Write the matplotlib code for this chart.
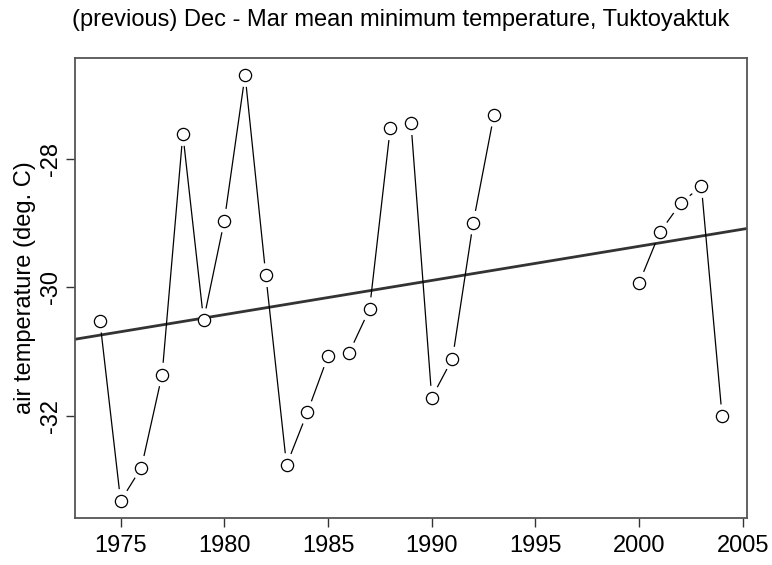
import matplotlib
matplotlib.use('Agg')
import matplotlib.pyplot as plt
import numpy as np

plt.rcParams['font.family'] = ['Liberation Sans', 'DejaVu Sans']

# Dec-Mar mean minimum temperature, Tuktoyaktuk (NaN = missing year)
years = np.arange(1974, 2005)
temps = np.array([
    -30.52, -33.33, -32.81, -31.36, -27.61, -30.51, -28.96, -26.69, -29.81, -32.77,
    -31.95, -31.07, -31.03, -30.34, -27.52, -27.44, -31.72, -31.11, -28.99, -27.31,
    np.nan, np.nan, np.nan, np.nan, np.nan, np.nan,
    -29.93, -29.14, -28.69, -28.42, -32.01,
])
xticks = [1975, 1980, 1985, 1990, 1995, 2000, 2005]
yticks = [-28, -30, -32]

fig = plt.figure(figsize=(7.72, 5.65), dpi=100)
ax = fig.add_axes([75/772, 47/565, 672/772, 460/565])

ok = ~np.isnan(temps)
xr = years.min(), years.max()
yr = np.nanmin(temps), np.nanmax(temps)
pad_x = 0.04 * (xr[1] - xr[0])
pad_y = 0.04 * (yr[1] - yr[0])
ax.set_xlim(xr[0] - pad_x, xr[1] + pad_x)
ax.set_ylim(yr[0] - pad_y, yr[1] + pad_y)

# linear trend
slope, icept = np.polyfit(years[ok], temps[ok], 1)
xl = np.array(ax.get_xlim())
ax.plot(xl, icept + slope * xl, color='#333333', lw=2.0, zorder=2)

# R type="b": segments with gaps around the points
fig.canvas.draw()
trans = ax.transData
inv = trans.inverted()
gap = 12.5
for i in range(len(years) - 1):
    if not (ok[i] and ok[i + 1]):
        continue
    p0 = trans.transform((years[i], temps[i]))
    p1 = trans.transform((years[i + 1], temps[i + 1]))
    d = p1 - p0
    L = np.hypot(*d)
    if L <= 2 * gap:
        continue
    u = d / L
    a = inv.transform(p0 + u * gap)
    b = inv.transform(p1 - u * gap)
    ax.plot([a[0], b[0]], [a[1], b[1]], color='black', lw=0.9, zorder=3)

ax.plot(years[ok], temps[ok], 'o', ms=8.8, mfc='white', mec='black', mew=0.9, zorder=4)

ax.set_xticks(xticks)
ax.set_yticks(yticks)
ax.set_yticklabels([str(v) for v in yticks], rotation=90, va='center')
ax.tick_params(labelsize=17, length=6.5, width=1.0, color='#333333')
ax.tick_params(axis='x', pad=6)
ax.tick_params(axis='y', pad=2.5)
for s in ax.spines.values():
    s.set_color('#555555')
    s.set_linewidth(1.3)

ax.set_ylabel('air temperature (deg. C)', fontsize=17, labelpad=3)
fig.text(401/772, 1 - 20/565, '(previous) Dec - Mar mean minimum temperature, Tuktoyaktuk',
         ha='center', va='center', fontsize=17)

fig.savefig('out.png', dpi=100)
